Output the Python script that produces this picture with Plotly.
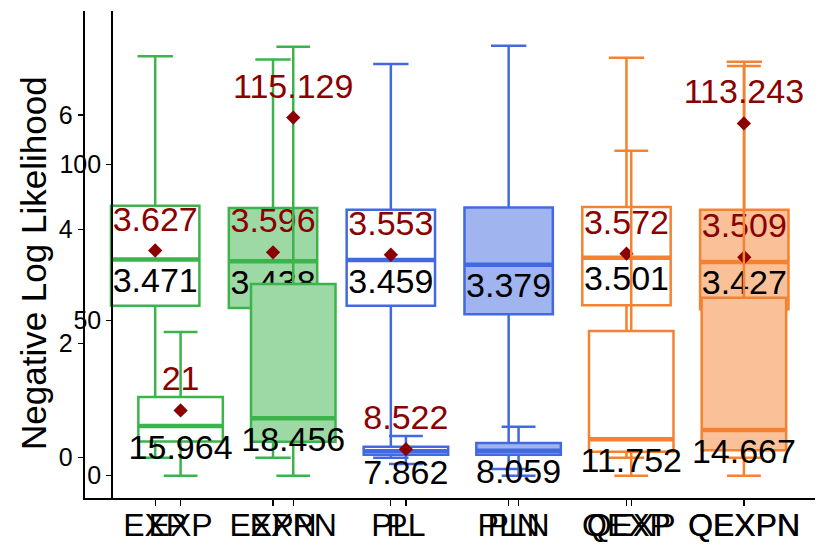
import plotly.graph_objects as go

# ---------------- data ----------------
categories = ["EXP", "EXPN", "PL", "PLN", "QEXP", "QEXPN"]

# panel 1 (left outer axis, 0-6 scale)
ll_lower = [0.0, 0.0, 0.0, -0.2, 0.0, 0.0]
ll_q1 = [2.66, 2.62, 2.66, 2.51, 2.67, 2.60]
ll_median = [3.471, 3.438, 3.459, 3.379, 3.501, 3.427]
ll_q3 = [4.41, 4.37, 4.34, 4.38, 4.39, 4.34]
ll_upper = [7.03, 6.97, 6.89, 7.21, 7.00, 6.93]
ll_mean = [3.627, 3.596, 3.553, None, 3.572, 3.509]

# panel 2 (inner axis, 0-100+ scale)
nll_lower = [0.0, 0.0, 3.8, 0.0, 0.0, 0.0]
nll_q1 = [11.0, 10.9, 6.7, 6.7, 7.7, 8.2]
nll_median = [15.964, 18.456, 7.862, 8.059, 11.752, 14.667]
nll_q3 = [25.3, 61.6, 9.3, 10.5, 46.5, 57.2]
nll_upper = [46.2, 137.9, 12.8, 15.7, 104.5, 131.7]
nll_mean = [21, 115.129, 8.522, None, None, 113.243]

ticks1 = [0, 2, 4, 6]
ticks2 = [0, 50, 100]

# ---------------- styling ----------------
GREEN, BLUE, ORANGE = "#3CB44B", "#4169E1", "#F58231"
line_colors = [GREEN, GREEN, BLUE, BLUE, ORANGE, ORANGE]
fill_colors = ["white", "#9DD9A5", "white", "#A0B4F0", "white", "#FAC098"]
MEAN_COL = "#8B0000"
FONT = "Liberation Sans, Arial, sans-serif"

W, H = 830, 554
plot_top, plot_bot = 11, 498
p1_left, p1_right = 84.5, 815
p2_left, p2_right = 113, 811.5
range1 = [-0.7055, 7.82]
range2 = [-7.17, 149.4]
px1 = (plot_bot - plot_top) / (range1[1] - range1[0])
px2 = (plot_bot - plot_top) / (range2[1] - range2[0])
BOXW = 0.75
MEAN_OFF = 28.5
MED_OFF = 24
LABEL_SIZE = 34


def fmt(v):
    s = f"{round(v, 3):.3f}".rstrip("0").rstrip(".")
    return s


fig = go.Figure()


def add_panel(xa, ya, lower, q1, med, q3, upper, mean, ppu):
    pos = list(range(len(categories)))
    for i in pos:
        fig.add_trace(go.Box(
            x=[i], q1=[q1[i]], median=[med[i]], q3=[q3[i]],
            lowerfence=[lower[i]], upperfence=[upper[i]],
            orientation="v", width=BOXW, whiskerwidth=0.4,
            fillcolor=fill_colors[i],
            line=dict(color=line_colors[i], width=2.5),
            boxpoints=False, showlegend=False, hoverinfo="skip",
            xaxis=xa, yaxis=ya))
        fig.add_trace(go.Scatter(
            x=[i - BOXW / 2, i + BOXW / 2], y=[med[i], med[i]],
            mode="lines", line=dict(color=line_colors[i], width=4.5),
            showlegend=False, hoverinfo="skip", xaxis=xa, yaxis=ya))
    mx = [i for i in pos if mean[i] is not None]
    my = [mean[i] for i in mx]
    fig.add_trace(go.Scatter(
        x=mx, y=my, mode="markers",
        marker=dict(symbol="diamond", size=11, color=MEAN_COL),
        showlegend=False, hoverinfo="skip", xaxis=xa, yaxis=ya))
    fig.add_trace(go.Scatter(
        x=mx, y=[v + MEAN_OFF / ppu for v in my], mode="text",
        text=[fmt(v) for v in my], textposition="middle center",
        textfont=dict(family=FONT, size=LABEL_SIZE, color=MEAN_COL),
        cliponaxis=False, showlegend=False, hoverinfo="skip",
        xaxis=xa, yaxis=ya))
    fig.add_trace(go.Scatter(
        x=pos, y=[v - MED_OFF / ppu for v in med], mode="text",
        text=[fmt(v) for v in med], textposition="middle center",
        textfont=dict(family=FONT, size=LABEL_SIZE, color="black"),
        cliponaxis=False, showlegend=False, hoverinfo="skip",
        xaxis=xa, yaxis=ya))


add_panel("x", "y", ll_lower, ll_q1, ll_median, ll_q3, ll_upper, ll_mean, px1)
add_panel("x2", "y2", nll_lower, nll_q1, nll_median, nll_q3, nll_upper, nll_mean, px2)

ydom = [(H - plot_bot) / H, (H - plot_top) / H]
common_x = dict(range=[-0.6, 5.6], tickmode="array", tickvals=list(range(6)),
                ticktext=categories, showgrid=False, zeroline=False,
                showline=True, linecolor="black", linewidth=1.8,
                ticks="outside", ticklen=6, tickwidth=1.2, tickcolor="black",
                ticklabelstandoff=-8,
                tickfont=dict(family=FONT, size=32, color="black"),
                fixedrange=True)
common_y = dict(showgrid=False, zeroline=False, showline=True,
                linecolor="black", linewidth=1.8, ticks="outside",
                ticklen=5, tickwidth=1.2, tickcolor="black",
                tickfont=dict(family=FONT, size=25, color="black"),
                domain=ydom, fixedrange=True)

fig.update_layout(
    width=W, height=H, autosize=False,
    margin=dict(l=0, r=0, t=0, b=0, pad=0),
    paper_bgcolor="white", plot_bgcolor="rgba(0,0,0,0)",
    boxmode="overlay", showlegend=False,
    font=dict(family=FONT, color="black"),
    xaxis=dict(domain=[p1_left / W, p1_right / W], anchor="y", **common_x),
    xaxis2=dict(domain=[p2_left / W, p2_right / W], anchor="y2", **common_x),
    yaxis=dict(range=range1, anchor="x", tickvals=ticks1,
               ticktext=[str(t) for t in ticks1], **common_y),
    yaxis2=dict(range=range2, anchor="x2", tickvals=ticks2,
                ticktext=[str(t) for t in ticks2], **common_y),
    annotations=[dict(text="Negative Log Likelihood", textangle=-90,
                      xref="paper", yref="paper", x=33 / W, y=(H - 263) / H,
                      xanchor="center", yanchor="middle", showarrow=False,
                      font=dict(family=FONT, size=35, color="black"))],
)

fig.write_html("out.html",
               config={"displayModeBar": False, "staticPlot": True},
               post_script="document.body.style.margin='0';"
                           "document.body.style.overflow='hidden';")
